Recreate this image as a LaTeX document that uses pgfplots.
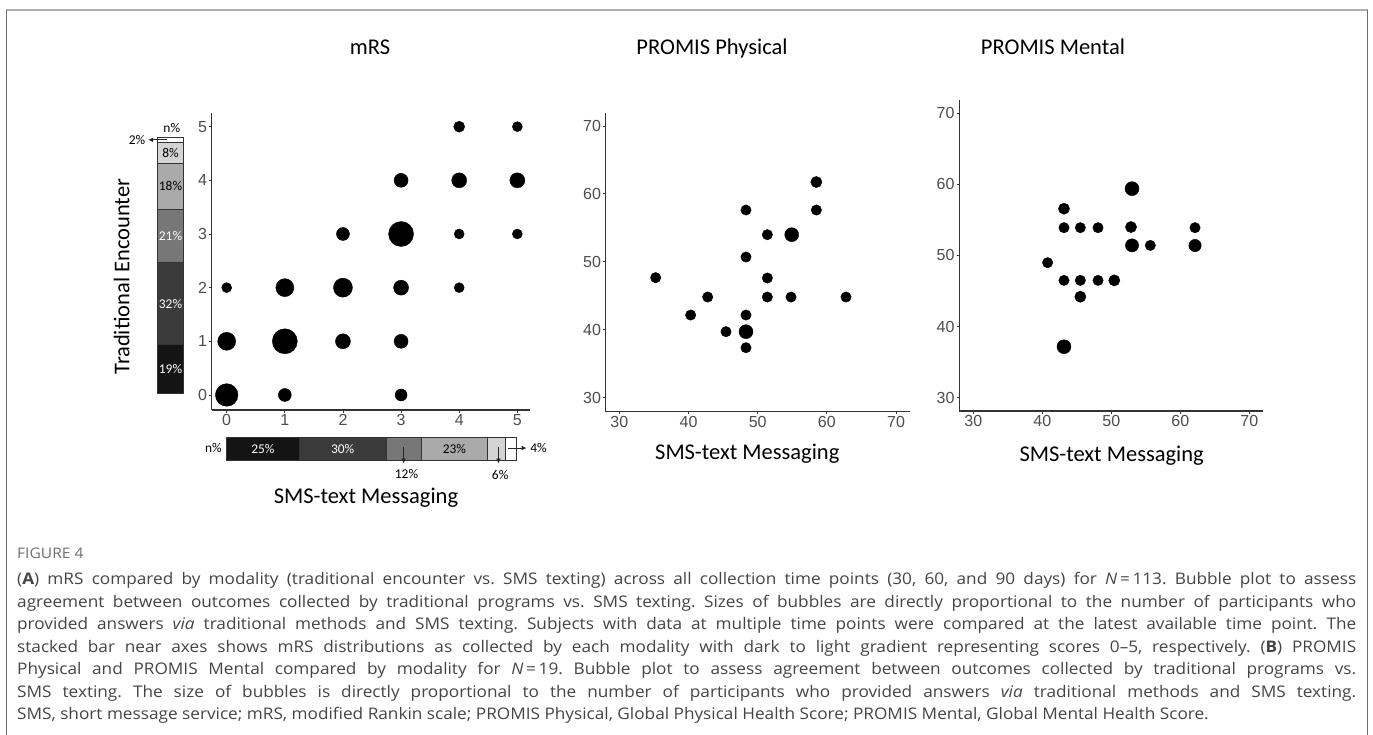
\documentclass[border=0pt]{standalone}
\usepackage{fontspec}
\setmainfont{Open Sans}
\newfontfamily\arial{Liberation Sans}
\newfontfamily\calibri{Carlito}
\newfontfamily\capfont[FakeStretch=1.075]{Open Sans}
\usepackage{pgfplots}
\usepackage{pgfplotstable}
\pgfplotsset{compat=1.18}
\usetikzlibrary{arrows.meta}
\definecolor{segA}{HTML}{141414}
\definecolor{segB}{HTML}{3B3B3B}
\definecolor{segC}{HTML}{777777}
\definecolor{segD}{HTML}{AAAAAA}
\definecolor{segE}{HTML}{D4D4D4}
\definecolor{tickgray}{HTML}{4D4D4D}
\definecolor{axisgray}{HTML}{333333}
\definecolor{capgray}{HTML}{454545}
\definecolor{figgray}{HTML}{707070}
\definecolor{frametop}{HTML}{B0B0B0}
\definecolor{frameside}{HTML}{6E6E6E}

\pgfplotstableread{
x y r
0 0 11.3
1 0 6.5
3 0 6
0 1 9
1 1 12.5
2 1 7.5
3 1 7
0 2 5
1 2 9
2 2 9.5
3 2 7.5
4 2 5
2 3 6.5
3 3 12.5
4 3 5
5 3 5
3 4 7
4 4 7.5
5 4 7.5
4 5 5.5
5 5 5
}\mrsdata

\pgfplotstableread{
x y r
35.25 47.67 5.2
40.31 42.17 5.2
42.77 44.82 5.2
45.42 39.72 5.2
48.31 39.72 7.0
48.31 42.17 5.2
48.31 37.36 5.2
48.31 50.71 5.2
48.31 57.63 5.2
51.40 54.00 5.2
51.40 47.62 5.2
51.40 44.82 5.2
54.92 54.00 7.0
54.82 44.82 5.2
58.48 61.75 5.6
58.48 57.63 5.2
62.77 44.82 5.2
}\physdata

\pgfplotstableread{
x y r
40.77 48.99 5.2
43.14 56.58 5.6
43.14 53.91 5.2
43.14 46.50 5.2
43.14 37.17 7.0
45.51 53.91 5.2
45.51 46.50 5.2
45.51 44.20 5.6
48.07 53.91 5.2
48.07 46.50 5.2
50.43 46.50 5.6
53.00 59.40 7.0
52.85 54.00 5.6
53.00 51.42 6.6
55.65 51.42 5.2
62.13 53.91 5.2
62.13 51.40 6.2
}\mentdata

\pgfplotsset{
  bubble/.style={scatter, only marks, mark=*,
    scatter/use mapped color={draw=black,fill=black},
    visualization depends on={\thisrow{r}\as\perpointmarksize},
    scatter/@pre marker code/.append style={/tikz/mark size=\perpointmarksize}},
  panel/.style={anchor=south west, scale only axis,
    axis x line*=bottom, axis y line*=left,
    axis line style={-, draw=axisgray, line width=1.1pt},
    tick style={draw=axisgray, line width=0.9pt},
    major tick length=2.6pt, tick align=outside,
    ticklabel style={font=\arial\fontsize{16}{16}\selectfont, text=tickgray},
    /pgf/number format/assume math mode=true,
    xticklabel style={inner sep=0pt, yshift=-2pt},
    yticklabel style={inner sep=0pt, xshift=-2pt},
    clip=false},
  segbar/.style={anchor=south west, scale only axis, hide axis, clip=false}
}
\tikzset{
  pct/.style={font=\calibri\fontsize{13.4}{14}\selectfont, inner sep=0pt},
  arr/.style={draw=black!85, line width=0.9pt, -{Latex[length=5pt,width=5pt]}}
}
\newcommand\capline[2]{\node[anchor=base west, inner sep=0pt, text=capgray] at (17pt,#1) {\capfont\fontsize{16}{18}\selectfont\frenchspacing\makebox[1339pt][s]{#2}};}

\begin{document}
\begin{tikzpicture}
\useasboundingbox (0pt,0pt) rectangle (1373pt,735pt);
\fill[white] (0pt,0pt) rectangle (1373pt,735pt);

% frame
\draw[frametop, line width=2pt] (6pt,725pt) -- (1368pt,725pt);
\draw[frameside, line width=1.3pt] (6.5pt,725pt) -- (6.5pt,0pt);
\draw[frameside, line width=1.3pt] (1367.3pt,725pt) -- (1367.3pt,0pt);

% titles
\node[anchor=base, font=\calibri\fontsize{22.5}{27}\selectfont] at (370pt,680pt) {mRS};
\node[anchor=base, font=\calibri\fontsize{22.5}{27}\selectfont] at (712pt,680pt) {PROMIS Physical};
\node[anchor=base, font=\calibri\fontsize{22.5}{27}\selectfont] at (1053pt,680pt) {PROMIS Mental};

% mRS bubble plot
\begin{axis}[panel, at={(211.7pt,325pt)}, width=318.3pt, height=297pt,
  xmin=-0.258, xmax=5.218, ymin=-0.28, ymax=5.255,
  xtick={0,1,2,3,4,5}, ytick={0,1,2,3,4,5}]
\addplot[bubble] table[x=x,y=y]{\mrsdata};
\end{axis}

% vertical stacked bar (Traditional Encounter)
\begin{axis}[segbar, at={(157.7pt,341.7pt)}, width=25.6pt, height=256pt,
  ybar stacked, bar width=25.6pt, xmin=-0.5, xmax=0.5, ymin=0, ymax=100]
\addplot[fill=segA, draw=axisgray, line width=0.6pt] coordinates {(0,19)};
\addplot[fill=segB, draw=axisgray, line width=0.6pt] coordinates {(0,32)};
\addplot[fill=segC, draw=axisgray, line width=0.6pt] coordinates {(0,21)};
\addplot[fill=segD, draw=axisgray, line width=0.6pt] coordinates {(0,18)};
\addplot[fill=segE, draw=axisgray, line width=0.6pt] coordinates {(0,8)};
\addplot[fill=white, draw=axisgray, line width=0.6pt] coordinates {(0,2)};
\coordinate (v0) at (axis cs:0,9.5);
\coordinate (v1) at (axis cs:0,35);
\coordinate (v2) at (axis cs:0,61.5);
\coordinate (v3) at (axis cs:0,81);
\coordinate (v4) at (axis cs:0,94);
\coordinate (vn) at (axis cs:0.05,103.7);
\coordinate (va) at (axis cs:-0.15,99);
\coordinate (vb) at (axis cs:-0.87,99);
\coordinate (vt) at (axis cs:-1.31,99);
\end{axis}
\node[pct, text=white] at (v0) {19\%};
\node[pct, text=white] at (v1) {32\%};
\node[pct, text=white] at (v2) {21\%};
\node[pct] at (v3) {18\%};
\node[pct] at (v4) {8\%};
\node[pct] at (vn) {n\%};
\draw[arr] (va) -- (vb);
\node[pct] at (vt) {2\%};

% horizontal stacked bar (SMS)
\begin{axis}[segbar, at={(226.7pt,274.3pt)}, width=290pt, height=23.4pt,
  xbar stacked, bar width=23.4pt, xmin=0, xmax=100, ymin=-0.5, ymax=0.5]
\addplot[fill=segA, draw=axisgray, line width=0.6pt] coordinates {(25,0)};
\addplot[fill=segB, draw=axisgray, line width=0.6pt] coordinates {(30,0)};
\addplot[fill=segC, draw=axisgray, line width=0.6pt] coordinates {(12,0)};
\addplot[fill=segD, draw=axisgray, line width=0.6pt] coordinates {(23,0)};
\addplot[fill=segE, draw=axisgray, line width=0.6pt] coordinates {(6,0)};
\addplot[fill=white, draw=axisgray, line width=0.6pt] coordinates {(4,0)};
\coordinate (h0) at (axis cs:12.5,0);
\coordinate (h1) at (axis cs:40,0);
\coordinate (h3) at (axis cs:78.5,0);
\coordinate (hn) at (axis cs:-4.6,0.05);
\coordinate (h2a) at (axis cs:61,0.1);
\coordinate (h2b) at (axis cs:61,-0.62);
\coordinate (h2t) at (axis cs:62,-1.06);
\coordinate (h4a) at (axis cs:93.7,0.1);
\coordinate (h4b) at (axis cs:93.7,-0.62);
\coordinate (h4t) at (axis cs:94.3,-1.12);
\coordinate (h5a) at (axis cs:97.1,0.04);
\coordinate (h5b) at (axis cs:103.4,0.04);
\coordinate (h5t) at (axis cs:107.5,0.04);
\end{axis}
\node[pct, text=white] at (h0) {25\%};
\node[pct, text=white] at (h1) {30\%};
\node[pct] at (h3) {23\%};
\node[pct] at (hn) {n\%};
\draw[arr] (h2a) -- (h2b);
\node[pct] at (h2t) {12\%};
\draw[arr] (h4a) -- (h4b);
\node[pct] at (h4t) {6\%};
\draw[arr] (h5a) -- (h5b);
\node[pct] at (h5t) {4\%};

\node[font=\calibri\fontsize{22.5}{27}\selectfont, rotate=90] at (121.7pt,458.3pt) {Traditional Encounter};
\node[anchor=base, font=\calibri\fontsize{22.5}{27}\selectfont] at (366pt,231pt) {SMS-text Messaging};

% PROMIS Physical
\begin{axis}[panel, at={(605.7pt,323.3pt)}, width=304.3pt, height=299pt,
  xmin=28.03, xmax=72.02, ymin=27.94, ymax=71.96,
  xtick={30,40,50,60,70}, ytick={30,40,50,60,70}]
\addplot[bubble] table[x=x,y=y]{\physdata};
\end{axis}
\node[anchor=base, font=\calibri\fontsize{22.5}{27}\selectfont] at (747.3pt,275pt) {SMS-text Messaging};

% PROMIS Mental
\begin{axis}[panel, at={(959.3pt,324pt)}, width=303.4pt, height=311pt,
  xmin=27.97, xmax=71.94, ymin=28.13, ymax=71.87,
  xtick={30,40,50,60,70}, ytick={30,40,50,60,70}]
\addplot[bubble] table[x=x,y=y]{\mentdata};
\end{axis}
\node[anchor=base, font=\calibri\fontsize{22.5}{27}\selectfont] at (1111.7pt,273pt) {SMS-text Messaging};

% caption
\node[anchor=base west, inner sep=0pt, text=figgray] at (17pt,176pt) {\capfont\fontsize{14.5}{16}\selectfont FIGURE 4};
\capline{150pt}{(\textbf{A}) mRS compared by modality (traditional encounter vs. SMS texting) across all collection time points (30, 60, and 90 days) for \textit{N}\,=\,113. Bubble plot to assess}
\capline{127.5pt}{agreement between outcomes collected by traditional programs vs. SMS texting. Sizes of bubbles are directly proportional to the number of participants who}
\capline{105pt}{provided answers \textit{via} traditional methods and SMS texting. Subjects with data at multiple time points were compared at the latest available time point. The}
\capline{82.5pt}{stacked bar near axes shows mRS distributions as collected by each modality with dark to light gradient representing scores 0–5, respectively. (\textbf{B}) PROMIS}
\capline{60pt}{Physical and PROMIS Mental compared by modality for \textit{N}\,=\,19. Bubble plot to assess agreement between outcomes collected by traditional programs vs.}
\capline{37.5pt}{SMS texting. The size of bubbles is directly proportional to the number of participants who provided answers \textit{via} traditional methods and SMS texting.}
\node[anchor=base west, inner sep=0pt, text=capgray] at (17pt,15pt) {\capfont\fontsize{16}{18}\selectfont SMS, short message service; mRS, modified Rankin scale; PROMIS Physical, Global Physical Health Score; PROMIS Mental, Global Mental Health Score.};
\end{tikzpicture}
\end{document}
